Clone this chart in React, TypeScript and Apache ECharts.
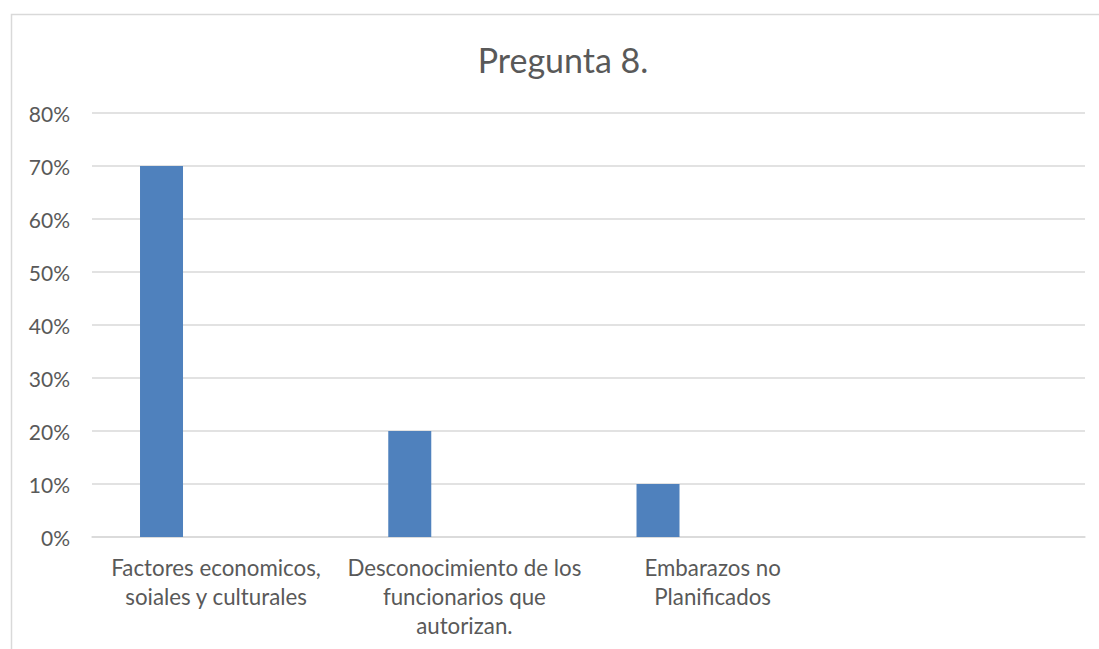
import React, { useEffect, useRef } from "react";
import * as echarts from "echarts";

const title = "Pregunta 8.";
const categories = [
  "Factores economicos,\nsoiales y culturales",
  "Desconocimiento de los\nfuncionarios que\nautorizan.",
  "Embarazos no\nPlanificados",
  "",
];
const seriesValues = [0.7, 0.2, 0.1, null];
const emptySeriesA = [null, null, null, null];
const emptySeriesB = [null, null, null, null];
const yTicks = [0, 0.1, 0.2, 0.3, 0.4, 0.5, 0.6, 0.7, 0.8];

const FONT = "Lato, 'Open Sans', sans-serif";

export default function App() {
  const ref = useRef<HTMLDivElement>(null);
  useEffect(() => {
    document.body.style.margin = "0";
    const chart = echarts.init(ref.current!, null, { renderer: "svg" });
    chart.setOption({
      animation: false,
      backgroundColor: "#ffffff",
      textStyle: { fontFamily: FONT },
      title: {
        text: title,
        left: 558,
        top: 37,
        textAlign: "center",
        textStyle: { fontFamily: FONT, fontSize: 34, fontWeight: "normal", color: "#595959" },
      },
      graphic: [
        {
          type: "rect",
          shape: { x: 11.5, y: 14.5, width: 1200, height: 800 },
          style: { fill: "none", stroke: "#D9D9D9", lineWidth: 1.5 },
          silent: true,
        },
      ],
      grid: { left: 92, right: 14, top: 113, bottom: 112, containLabel: false },
      xAxis: {
        type: "category",
        data: categories,
        axisLine: { show: true, lineStyle: { color: "#D9D9D9", width: 1.5 } },
        axisTick: { show: false },
        axisLabel: {
          interval: 0,
          margin: 16,
          color: "#595959",
          fontFamily: FONT,
          fontSize: 22.3,
          lineHeight: 29,
          align: "center",
        },
      },
      yAxis: {
        type: "value",
        min: yTicks[0],
        max: yTicks[yTicks.length - 1],
        interval: 0.1,
        axisLine: { show: false },
        axisTick: { show: false },
        splitLine: { lineStyle: { color: "#D9D9D9", width: 1.5 } },
        axisLabel: {
          margin: 22,
          color: "#595959",
          fontFamily: FONT,
          fontSize: 21,
          formatter: (v: number) => Math.round(v * 100) + "%",
        },
      },
      series: [
        {
          type: "bar",
          name: "Serie 1",
          data: seriesValues,
          barWidth: 43,
          barGap: "27%",
          itemStyle: { color: "#4F81BD" },
        },
        {
          type: "bar",
          name: "Serie 2",
          data: emptySeriesA,
          barWidth: 43,
          barGap: "27%",
          itemStyle: { color: "#C0504D" },
        },
        {
          type: "bar",
          name: "Serie 3",
          data: emptySeriesB,
          barWidth: 43,
          barGap: "27%",
          itemStyle: { color: "#9BBB59" },
        },
      ],
    });
    return () => chart.dispose();
  }, []);
  return <div ref={ref} style={{ width: 1099, height: 649 }} />;
}
